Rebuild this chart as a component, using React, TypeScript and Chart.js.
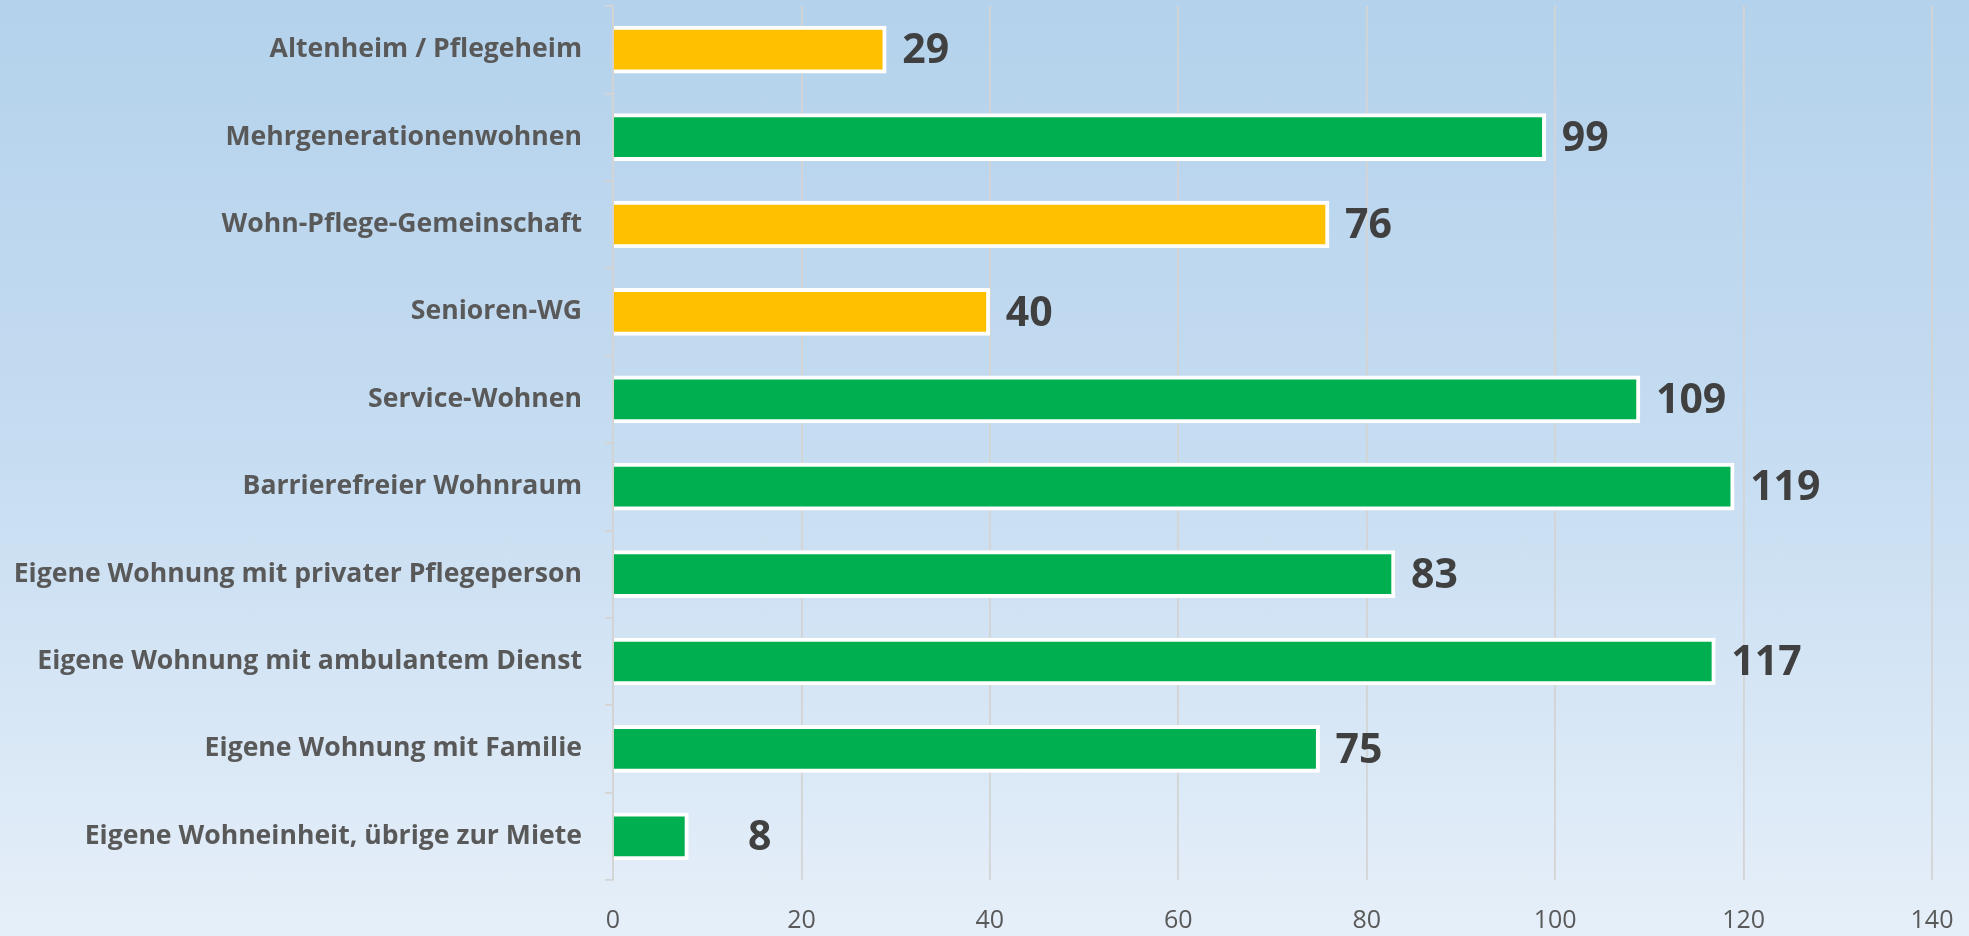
import React, { useEffect, useRef } from "react";
import { Chart, registerables } from "chart.js";

Chart.register(...registerables);

const categories = [
  "Altenheim / Pflegeheim",
  "Mehrgenerationenwohnen",
  "Wohn-Pflege-Gemeinschaft",
  "Senioren-WG",
  "Service-Wohnen",
  "Barrierefreier Wohnraum",
  "Eigene Wohnung mit privater Pflegeperson",
  "Eigene Wohnung mit ambulantem Dienst",
  "Eigene Wohnung mit Familie",
  "Eigene Wohneinheit, übrige zur Miete",
];

const values = [29, 99, 76, 40, 109, 119, 83, 117, 75, 8];

// "y" = yellow group, "g" = green group
const groups = ["y", "g", "y", "y", "g", "g", "g", "g", "g", "g"];

const xTicks = [0, 20, 40, 60, 80, 100, 120, 140];

const YELLOW = "#FFC000";
const GREEN = "#00B050";

const valueLabelPlugin = {
  id: "valueLabels",
  afterDatasetsDraw(chart: any) {
    const ctx = chart.ctx;
    const meta = chart.getDatasetMeta(0);
    const xScale = chart.scales.x;
    const minX = xScale.getPixelForValue(0) + 135;
    ctx.save();
    ctx.font = "bold 41px 'Open Sans'";
    ctx.fillStyle = "#404040";
    ctx.textAlign = "left";
    ctx.textBaseline = "middle";
    meta.data.forEach((bar: any, i: number) => {
      const v = chart.data.datasets[0].data[i];
      const x = Math.max(bar.x + 16, minX);
      ctx.fillText(String(v), x, bar.y + 2);
    });
    ctx.restore();
  },
};

export default function App() {
  const canvasRef = useRef<HTMLCanvasElement | null>(null);

  useEffect(() => {
    document.body.style.margin = "0";
    const canvas = canvasRef.current;
    if (!canvas) return;
    const chart = new Chart(canvas, {
      type: "bar",
      data: {
        labels: categories,
        datasets: [
          {
            data: values,
            backgroundColor: groups.map((g) => (g === "y" ? YELLOW : GREEN)),
            borderColor: "#FFFFFF",
            borderWidth: 4,
            borderSkipped: "start",
            barThickness: 47,
          },
        ],
      },
      options: {
        indexAxis: "y",
        responsive: false,
        animation: false,
        layout: { padding: { top: 6, right: 37, left: 0, bottom: 0 } },
        plugins: {
          legend: { display: false },
          tooltip: { enabled: false },
        },
        scales: {
          x: {
            min: 0,
            max: 140,
            afterBuildTicks: (scale: any) => {
              scale.ticks = xTicks.map((v) => ({ value: v }));
            },
            afterFit: (scale: any) => {
              scale.height = 56;
              scale.paddingLeft = 0;
              scale.paddingRight = 0;
            },
            grid: {
              color: "#D4D4D4",
              lineWidth: 1.8,
              drawTicks: false,
            },
            border: { display: false },
            ticks: {
              padding: 26,
              color: "#595959",
              font: { family: "'Open Sans'", size: 25 },
            },
          },
          y: {
            afterFit: (scale: any) => {
              scale.width = 613;
              scale.paddingTop = 0;
              scale.paddingBottom = 0;
            },
            grid: {
              offset: true,
              drawOnChartArea: false,
              drawTicks: true,
              tickLength: 8,
              color: "#D4D4D4",
              lineWidth: 1.8,
            },
            border: { display: true, color: "#D4D4D4", width: 1.8 },
            ticks: {
              padding: 23,
              color: "#595959",
              font: { family: "'Open Sans'", size: 26.6, weight: "bold" },
            },
          },
        },
      },
      plugins: [valueLabelPlugin],
    });
    return () => chart.destroy();
  }, []);

  return (
    <div
      style={{
        position: "absolute",
        left: 0,
        top: 0,
        width: 1969,
        height: 936,
        background: "linear-gradient(to bottom, #B4D2EC 0%, #C5DCF1 47%, #E6EFF9 100%)",
      }}
    >
      <canvas ref={canvasRef} width={1969} height={936} style={{ display: "block" }} />
    </div>
  );
}
